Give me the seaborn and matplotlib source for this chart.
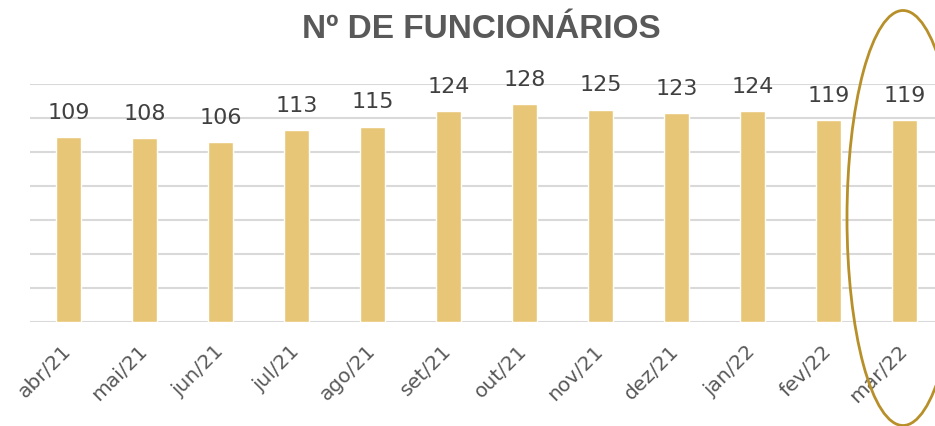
import matplotlib
matplotlib.use("Agg")
import matplotlib.pyplot as plt
import matplotlib.transforms as mtransforms
from matplotlib.patches import Ellipse
import pandas as pd
import seaborn as sns

# dados do gráfico
meses = ["abr/21", "mai/21", "jun/21", "jul/21", "ago/21", "set/21",
         "out/21", "nov/21", "dez/21", "jan/22", "fev/22", "mar/22"]
funcionarios = [109, 108, 106, 113, 115, 124, 128, 125, 123, 124, 119, 119]

df = pd.DataFrame({"mes": meses, "funcionarios": funcionarios})

sns.set_theme(style="white")
plt.rcParams['font.family'] = ['DejaVu Sans']

fig = plt.figure(figsize=(9.35, 4.26), dpi=100)
ax = fig.add_axes([30 / 935, (426 - 322) / 426, (935 - 30) / 935, (322 - 84) / 426])

sns.barplot(data=df, x="mes", y="funcionarios", color="#E8C677",
            saturation=1, width=0.33, ax=ax)

ax.set_ylim(0, 140)
ax.set_xlim(-0.51, 11.4)
ax.set_yticks(range(0, 141, 20))
ax.yaxis.grid(True, color="#D9D9D9", linewidth=1.5)
ax.set_axisbelow(True)
ax.tick_params(axis="y", left=False, labelleft=False)
ax.tick_params(axis="x", bottom=False, pad=8)
for s in ax.spines.values():
    s.set_visible(False)
ax.set_xlabel("")
ax.set_ylabel("")

desloc = mtransforms.ScaledTranslation(-7 / 100, 0, fig.dpi_scale_trans)
for lbl in ax.get_xticklabels():
    lbl.set_rotation(45)
    lbl.set_ha("right")
    lbl.set_rotation_mode("anchor")
    lbl.set_fontsize(14.5)
    lbl.set_color("#595959")
    lbl.set_transform(lbl.get_transform() + desloc)

# rótulos de valor
for i, v in enumerate(funcionarios):
    ax.annotate(str(v), (i, v), xytext=(0, 13), textcoords="offset points",
                ha="center", va="baseline", fontsize=16, color="#404040",
                clip_on=False)

fig.text(481 / 935, 1 - 29 / 426, "Nº DE FUNCIONÁRIOS", ha="center", va="center",
         fontsize=24, fontweight="bold", color="#595959",
         family=["Liberation Sans", "DejaVu Sans"])

# destaque no último mês
elipse = Ellipse((903 / 935, 1 - 218 / 426), 112 / 935, 415 / 426,
                 transform=fig.transFigure, fill=False, edgecolor="#B8902A",
                 linewidth=2, clip_on=False)
fig.patches.append(elipse)

fig.savefig("out.png", dpi=100)
